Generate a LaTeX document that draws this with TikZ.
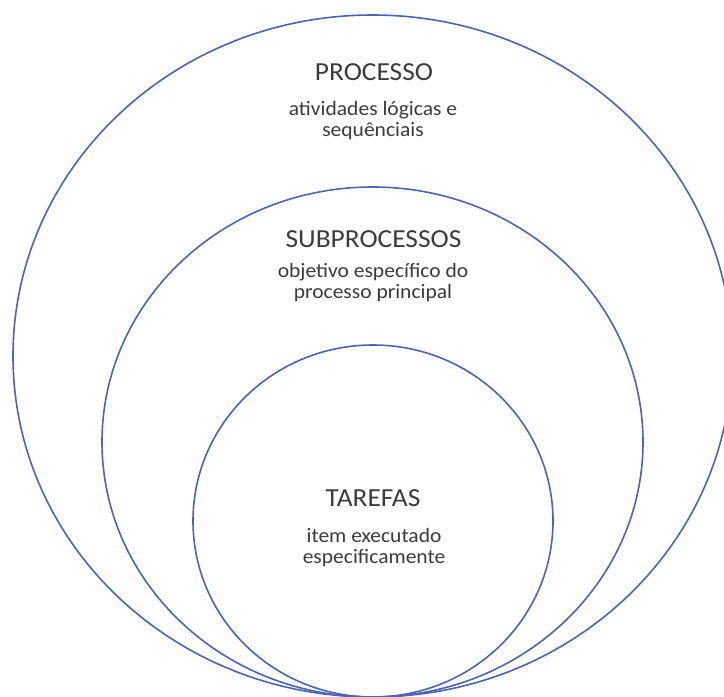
\documentclass[tikz,border=0pt]{standalone}
\usepackage{fontspec}
\setmainfont{Carlito}[FakeStretch=1.055]
\usetikzlibrary{shapes.geometric}
\definecolor{ringblue}{RGB}{76,100,182}
\definecolor{labelgray}{RGB}{60,60,60}
\tikzset{
  ring/.style={ellipse, draw=ringblue, line width=1.6pt, inner sep=0pt, fill=none},
  title/.style={anchor=base, text=labelgray, inner sep=0pt, font=\fontsize{26}{30}\selectfont},
  % multi-line nodes: the base anchor sits on the last line
  desc/.style={anchor=base, text=labelgray, inner sep=0pt, align=center, font=\fontsize{20.4}{21}\selectfont}
}
\begin{document}
\begin{tikzpicture}[x=1pt,y=-1pt]
  \useasboundingbox (0,0) rectangle (724,697);
  \clip (0,0) rectangle (724,697);
  \fill[white] (0,0) rectangle (724,697);
  % nested rings, all touching at the bottom
  \node[ring, minimum width=719pt, minimum height=682pt] (processo) at (372.5,356) {};
  \node[ring, minimum width=541pt, minimum height=510pt] (subprocessos) at (372.5,442) {};
  \node[ring, minimum width=360pt, minimum height=352pt] (tarefas) at (373,521) {};
  % labels
  \node[title] (tProcesso) at (374,80) {PROCESSO};
  \node[desc] (dProcesso) at (373,136) {atividades lógicas e\\sequênciais};
  \node[title] (tSub) at (373.5,247) {SUBPROCESSOS};
  \node[desc] (dSub) at (373,298) {objetivo específico do\\processo principal};
  \node[title] (tTarefas) at (373,506) {TAREFAS};
  \node[desc] (dTarefas) at (374,563) {item executado\\especificamente};
\end{tikzpicture}
\end{document}
